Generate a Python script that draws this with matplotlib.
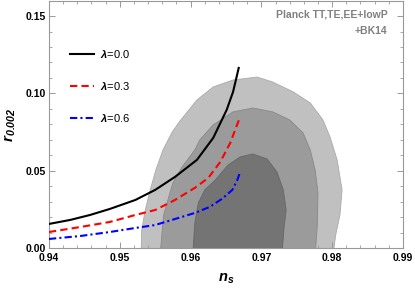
import matplotlib
matplotlib.use("Agg")
import matplotlib.pyplot as plt
from matplotlib.ticker import MultipleLocator

plt.rcParams['font.family'] = ['Liberation Sans', 'DejaVu Sans']
plt.rcParams['font.weight'] = 'bold'
plt.rcParams['mathtext.fontset'] = 'custom'
plt.rcParams['mathtext.it'] = 'Liberation Sans:italic'
plt.rcParams['mathtext.rm'] = 'Liberation Sans'
plt.rcParams['mathtext.bfit'] = 'Liberation Sans:italic:bold'

# Planck TT,TE,EE+lowP+BK14 contours (outer, middle, inner)
outer_ns = [0.9530, 0.9531, 0.9536, 0.9543, 0.9551, 0.9561, 0.9574, 0.9585, 0.9609, 0.9632,
            0.9660, 0.9694, 0.9716, 0.9745, 0.9769, 0.9787, 0.9797, 0.9807, 0.9814, 0.9811,
            0.9805, 0.9801]
outer_r = [-0.005, 0.0118, 0.0247, 0.0377, 0.0506, 0.0635, 0.0751, 0.0822, 0.0958, 0.1042,
           0.1087, 0.1106, 0.1074, 0.1010, 0.0939, 0.0829, 0.0719, 0.0571, 0.0377, 0.0215,
           0.0086, -0.005]
mid_ns = [0.9557, 0.9560, 0.9562, 0.9568, 0.9575, 0.9588, 0.9606, 0.9613, 0.9632, 0.9660,
          0.9688, 0.9716, 0.9740, 0.9759, 0.9769, 0.9776, 0.9780, 0.9779, 0.9776]
mid_r = [-0.005, 0.0118, 0.0215, 0.0312, 0.0422, 0.0525, 0.0635, 0.0700, 0.0797, 0.0881,
         0.0906, 0.0881, 0.0829, 0.0745, 0.0635, 0.0506, 0.0357, 0.0151, -0.005]
in_ns = [0.9603, 0.9606, 0.9611, 0.9620, 0.9635, 0.9653, 0.9670, 0.9688, 0.9708, 0.9722,
         0.9731, 0.9735, 0.9732, 0.9729]
in_r = [-0.005, 0.0163, 0.0293, 0.0377, 0.0441, 0.0538, 0.0590, 0.0609, 0.0577, 0.0493,
        0.0377, 0.0247, 0.0131, -0.005]

# model predictions
ns0 = [0.9400, 0.9430, 0.9458, 0.9486, 0.9522, 0.9550, 0.9578, 0.9609, 0.9632, 0.9651,
       0.9660, 0.9664, 0.9668]
r0 = [0.0157, 0.0183, 0.0215, 0.0254, 0.0312, 0.0377, 0.0461, 0.0571, 0.0713, 0.0894,
      0.1010, 0.1087, 0.1165]
ns3 = [0.9400, 0.9444, 0.9486, 0.9522, 0.9550, 0.9578, 0.9606, 0.9625, 0.9642, 0.9656,
       0.9664, 0.9670]
r3 = [0.0105, 0.0137, 0.0170, 0.0215, 0.0247, 0.0312, 0.0390, 0.0454, 0.0558, 0.0680,
      0.0777, 0.0848]
ns6 = [0.9400, 0.9444, 0.9486, 0.9522, 0.9550, 0.9578, 0.9606, 0.9627, 0.9644, 0.9659,
       0.9666, 0.9670]
r6 = [0.0060, 0.0079, 0.0105, 0.0131, 0.0150, 0.0189, 0.0228, 0.0267, 0.0318, 0.0377,
      0.0441, 0.0493]

fig = plt.figure(figsize=(4.15, 2.88), dpi=100)
ax = fig.add_axes([0.118, 0.138, 0.853, 0.860])

ax.fill(outer_ns, outer_r, facecolor='#c0c0c0', edgecolor='#aaaaaa', lw=0.6, zorder=1)
ax.fill(mid_ns, mid_r, facecolor='#9b9b9b', edgecolor='#888888', lw=0.6, zorder=2)
ax.fill(in_ns, in_r, facecolor='#747474', edgecolor='#666666', lw=0.6, zorder=3)

ax.plot(ns0, r0, color='black', lw=1.5, label=r'$\lambda$=0.0', zorder=5)
ax.plot(ns3, r3, color='red', lw=1.5, ls=(0, (3.5, 2)), label=r'$\lambda$=0.3', zorder=5)
ax.plot(ns6, r6, color='blue', lw=1.5, ls=(0, (3.5, 1.5, 1, 1.5)), label=r'$\lambda$=0.6', zorder=5)

ax.set_xlim(0.94, 0.99)
ax.set_ylim(0.0, 0.16)
ax.xaxis.set_major_locator(MultipleLocator(0.01))
ax.xaxis.set_minor_locator(MultipleLocator(0.002))
ax.yaxis.set_major_locator(MultipleLocator(0.05))
ax.yaxis.set_minor_locator(MultipleLocator(0.01))
ax.xaxis.set_major_formatter(lambda v, p: f"{v:.2f}")
ax.yaxis.set_major_formatter(lambda v, p: f"{v:.2f}")

for s in ax.spines.values():
    s.set_color('#999999')
    s.set_linewidth(0.8)
ax.tick_params(which='both', direction='in', top=True, right=True, color='#999999',
               labelsize=7.5)
ax.tick_params(axis='x', pad=3.5)
ax.tick_params(axis='y', pad=2.5)
ax.tick_params(which='major', length=4.5, width=0.7)
ax.tick_params(which='minor', length=2.5, width=0.6)

ax.set_xlabel(r'$\mathbfit{n_s}$', fontsize=10.5, labelpad=6)
ax.set_ylabel(r'$\mathbfit{r_{0.002}}$', fontsize=11, labelpad=5)

ax.text(0.956, 0.945, 'Planck TT,TE,EE+lowP', transform=ax.transAxes, ha='right', va='center',
        fontsize=7.5, fontweight='bold', color='#808080')
ax.text(0.956, 0.877, '+BK14', transform=ax.transAxes, ha='right', va='center',
        fontsize=7.5, fontweight='bold', color='#808080')

ax.legend(loc='upper left', bbox_to_anchor=(0.06, 0.81), frameon=False,
          prop={'size': 8, 'weight': 'normal'},
          handlelength=2.1, handletextpad=0.6, labelspacing=1.8, borderpad=0, borderaxespad=0)

fig.savefig('out.png', dpi=100)
